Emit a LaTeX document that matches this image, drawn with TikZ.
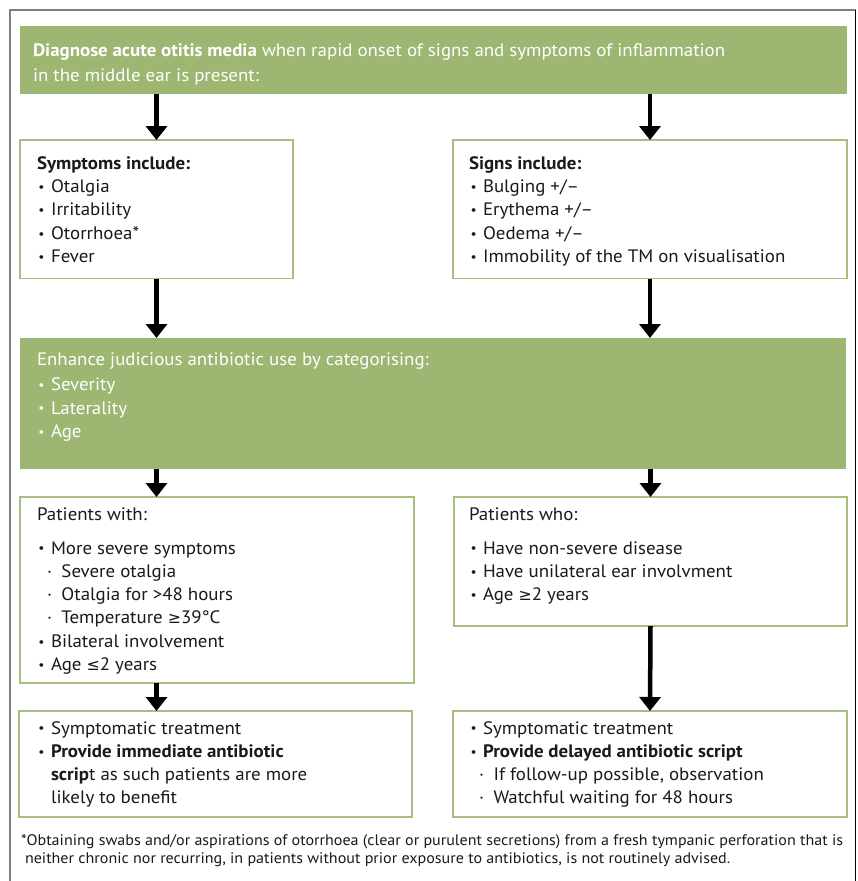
\documentclass[tikz,border=0pt]{standalone}
\usepackage{fontspec}
\usepackage{graphicx}
\setmainfont{PT Sans}[FakeStretch=1.05]
\newfontfamily\symfont{DejaVu Sans}[Scale=0.88]
\usetikzlibrary{arrows.meta}

\definecolor{barfill}{HTML}{9DB672}
\definecolor{boxline}{HTML}{A6BF7E}
\definecolor{framegray}{HTML}{808080}
\definecolor{ink}{HTML}{1A1A1A}

% one line, a bulleted line, a sub-bulleted line, a continuation line
\newcommand\dotmark{\raisebox{1.2pt}{\scalebox{0.72}{\textbullet}}}
\newcommand\lne[1]{\hbox{#1}}
\newcommand\bul[1]{\hbox{\hbox to 14pt{\hskip1.5pt\dotmark\hss}#1}}
\newcommand\subbul[1]{\hbox{\hbox to 24.5pt{\hskip10pt\textperiodcentered\hss}#1}}
\newcommand\cont[1]{\hbox{\hskip14pt #1}}
% a stack of lines whose baseline is the first line's baseline
\newcommand\block[2][23.3pt]{\vtop{\baselineskip=#1\lineskiplimit=-50pt\lineskip=0pt #2}}
\newcommand\atleast{{\symfont ≥}}
\newcommand\atmost{{\symfont ≤}}

\begin{document}
\begin{tikzpicture}[x=1pt,y=-1pt,
  bar/.style={fill=barfill, draw=none, inner sep=0, outer sep=0},
  box/.style={draw=boxline, line width=1.6pt, fill=white, inner sep=0, outer sep=0},
  arr/.style={line width=4.5pt, -{Triangle[width=21pt,length=14pt]}},
  txt/.style={anchor=base west, inner sep=0, outer sep=0, text=ink,
              font=\fontsize{18}{23.3}\selectfont},
  wtxt/.style={txt, text=white},
  note/.style={txt, font=\fontsize{15.3}{18.3}\selectfont}]
\useasboundingbox (0,0) rectangle (857,881);

% outer frame
\draw[framegray, line width=2pt] (10,881) -- (10,10) -- (856,10);
\draw[black, line width=1.5pt] (855.5,10) -- (855.5,881);

% boxes
\node[bar, minimum width=827pt, minimum height=68pt]  (top)   at (433.5,60)   {};
\node[box, minimum width=273pt, minimum height=138.5pt] (symp) at (156.5,209.3) {};
\node[box, minimum width=394pt, minimum height=138.5pt] (signs) at (650,209.3) {};
\node[bar, minimum width=826pt, minimum height=131pt] (bar2)  at (433,403.5)  {};
\node[box, minimum width=394pt, minimum height=186pt] (pw)    at (217,590)    {};
\node[box, minimum width=393pt, minimum height=129pt] (pwho)  at (650.5,561.5) {};
\node[box, minimum width=393pt, minimum height=106pt] (tl)    at (215.5,764)  {};
\node[box, minimum width=394pt, minimum height=106pt] (tr)    at (650,764)    {};

% connectors
\draw[arr] (top.south -| symp) -- (symp.north);
\draw[arr] (top.south -| signs) -- (signs.north);
\draw[arr] (symp.south) -- (bar2.north -| symp);
\draw[arr] (signs.south) -- (bar2.north -| signs);
\draw[arr] (bar2.south -| symp) -- (pw.north -| symp);
\draw[arr] (bar2.south -| pwho) -- (pwho.north);
\draw[arr] (pw.south -| symp) -- (tl.north -| symp);
\draw[arr] (pwho.south) -- (tr.north);

% texts
\node[wtxt] (toptxt) at (33,56.7) {\block[24.3pt]{%
  \lne{\textbf{Diagnose acute otitis media} when rapid onset of signs and symptoms of inflammation}%
  \lne{in the middle ear is present:}}};

\node[txt] (symptxt) at (37,169.3) {\block{%
  \lne{\textbf{Symptoms include:}}%
  \bul{Otalgia}\bul{Irritability}\bul{Otorrhoea*}\bul{Fever}}};

\node[txt] (signstxt) at (469,169.3) {\block{%
  \lne{\textbf{Signs include:}}%
  \bul{Bulging +/–}\bul{Erythema +/–}\bul{Oedema +/–}%
  \bul{Immobility of the TM on visualisation}}};

\node[wtxt] (bar2txt) at (37,365) {\block{%
  \lne{Enhance judicious antibiotic use by categorising:}\vskip2.5pt
  \bul{Severity}\bul{Laterality}\bul{Age}}};

\node[txt] (pwtxt) at (37,520.7) {\block{%
  \lne{Patients with:}\vskip10pt
  \bul{More severe symptoms}%
  \subbul{Severe otalgia}\subbul{Otalgia for >48 hours}\subbul{Temperature \atleast39°C}%
  \bul{Bilateral involvement}\bul{Age \atmost2 years}}};

\node[txt] (pwhotxt) at (469,520.7) {\block{%
  \lne{Patients who:}\vskip10pt
  \bul{Have non-severe disease}\bul{Have unilateral ear involvment}\bul{Age \atleast2 years}}};

\node[txt] (tltxt) at (37,734) {\block{%
  \bul{Symptomatic treatment}%
  \bul{\textbf{Provide immediate antibiotic}}%
  \cont{\textbf{scrip}t as such patients are more}%
  \cont{likely to benefit}}};

\node[txt] (trtxt) at (469,734) {\block{%
  \bul{Symptomatic treatment}%
  \bul{\textbf{Provide delayed antibiotic script}}%
  \subbul{If follow-up possible, observation}%
  \subbul{Watchful waiting for 48 hours}}};

\node[note] (foot) at (21,845) {\block[18.3pt]{%
  \lne{*Obtaining swabs and/or aspirations of otorrhoea (clear or purulent secretions) from a fresh tympanic perforation that is}%
  \lne{\hskip4pt neither chronic nor recurring, in patients without prior exposure to antibiotics, is not routinely advised.}}};
\end{tikzpicture}
\end{document}
